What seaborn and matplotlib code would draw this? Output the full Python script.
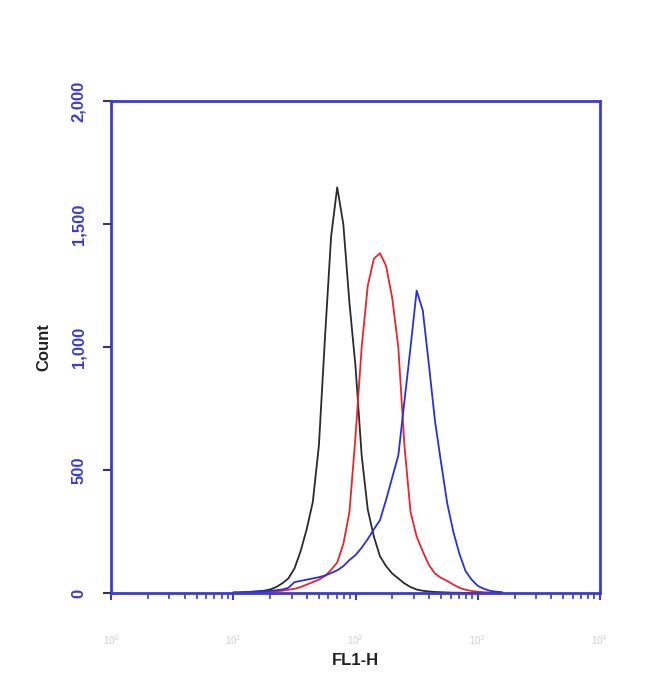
import numpy as np
import pandas as pd
import matplotlib
matplotlib.use("Agg")
import matplotlib.pyplot as plt
import seaborn as sns
from matplotlib.ticker import LogLocator, FixedLocator, FuncFormatter

# log10(FL1-H) bin positions
log_bins = [1.00, 1.05, 1.10, 1.15, 1.20, 1.25, 1.30, 1.35, 1.40, 1.45,
            1.50, 1.55, 1.60, 1.65, 1.70, 1.75, 1.80, 1.85, 1.90, 1.95,
            2.00, 2.05, 2.10, 2.15, 2.20, 2.25, 2.30, 2.35, 2.40, 2.45,
            2.50, 2.55, 2.60, 2.65, 2.70, 2.75, 2.80, 2.85, 2.90, 2.95,
            3.00, 3.05, 3.10, 3.15, 3.20]

black_counts = [3, 3, 5, 6, 8, 10, 15, 25, 40, 60,
                100, 170, 260, 370, 600, 1040, 1450, 1650, 1500, 1180,
                920, 560, 340, 230, 150, 110, 80, 60, 40, 25,
                15, 10, 7, 5, 4, 3, 2, 2, 1, 1,
                1, 1, 0, 0, 0]

red_counts = [2, 2, 3, 3, 4, 5, 6, 8, 10, 14,
              18, 25, 35, 45, 55, 70, 95, 125, 200, 330,
              640, 1000, 1250, 1360, 1382, 1330, 1200, 1000, 600, 330,
              230, 170, 115, 80, 62, 50, 35, 22, 14, 9,
              6, 4, 3, 2, 2]

blue_counts = [3, 3, 4, 5, 6, 8, 10, 12, 15, 22,
               45, 50, 55, 60, 65, 72, 82, 93, 110, 135,
               155, 185, 220, 260, 297, 380, 470, 560, 780, 1000,
               1230, 1150, 930, 700, 530, 366, 250, 160, 90, 55,
               30, 18, 10, 6, 4]

series_names = ["Isotype control", "Sample A", "Sample B"]
y_ticks = [0, 500, 1000, 1500, 2000]
x_decades = [1, 10, 100, 1000, 10000]

frames = []
for name, counts in zip(series_names, [black_counts, red_counts, blue_counts]):
    frames.append(pd.DataFrame({"FL1-H": [10 ** b for b in log_bins],
                                "Count": counts, "series": name}))
df = pd.concat(frames, ignore_index=True)

sns.set_style("white")
plt.rcParams["font.family"] = ["Liberation Sans", "DejaVu Sans"]
fig = plt.figure(figsize=(6.5, 6.93), dpi=100)
ax = fig.add_axes([0.171, 0.144, 0.752, 0.710])

palette = {"Isotype control": "#2a2a2a", "Sample A": "#e8262b", "Sample B": "#2b2fd6"}
sns.lineplot(data=df, x="FL1-H", y="Count", hue="series", palette=palette,
             estimator=None, sort=False, linewidth=1.3, legend=False, ax=ax)

ax.set_xscale("log")
ax.set_xlim(1, 10000)
ax.set_ylim(0, 2000)

spine_col = "#3b3bd0"
for s in ax.spines.values():
    s.set_color(spine_col)
    s.set_linewidth(2.0)
    s.set_visible(True)

ax.set_yticks(y_ticks)
ax.set_yticklabels([f"{v:,}" for v in y_ticks], rotation=90, va="center",
                   color=spine_col, fontsize=12, fontweight="bold")
ax.tick_params(axis="y", left=True, direction="out", length=6, width=1.5,
               color="#333366", pad=12)

ax.xaxis.set_major_locator(FixedLocator(x_decades))
ax.xaxis.set_minor_locator(LogLocator(base=10, subs=np.arange(2, 10)))
ax.xaxis.set_major_formatter(FuncFormatter(lambda v, p: f"10$^{{{int(round(np.log10(v)))}}}$"))
ax.tick_params(axis="x", which="major", bottom=True, direction="out", length=5, width=1.5,
               color=spine_col, labelcolor="#d0d0d0", labelsize=7, pad=24)
ax.tick_params(axis="x", which="minor", bottom=True, direction="out", length=4, width=1.2,
               color=spine_col)

ax.set_xlabel("FL1-H", fontsize=12, fontweight="bold", color="#222222", labelpad=4)
ax.set_ylabel("Count", fontsize=12, fontweight="bold", color="#222222", labelpad=14)

fig.savefig("out.png", dpi=100)
